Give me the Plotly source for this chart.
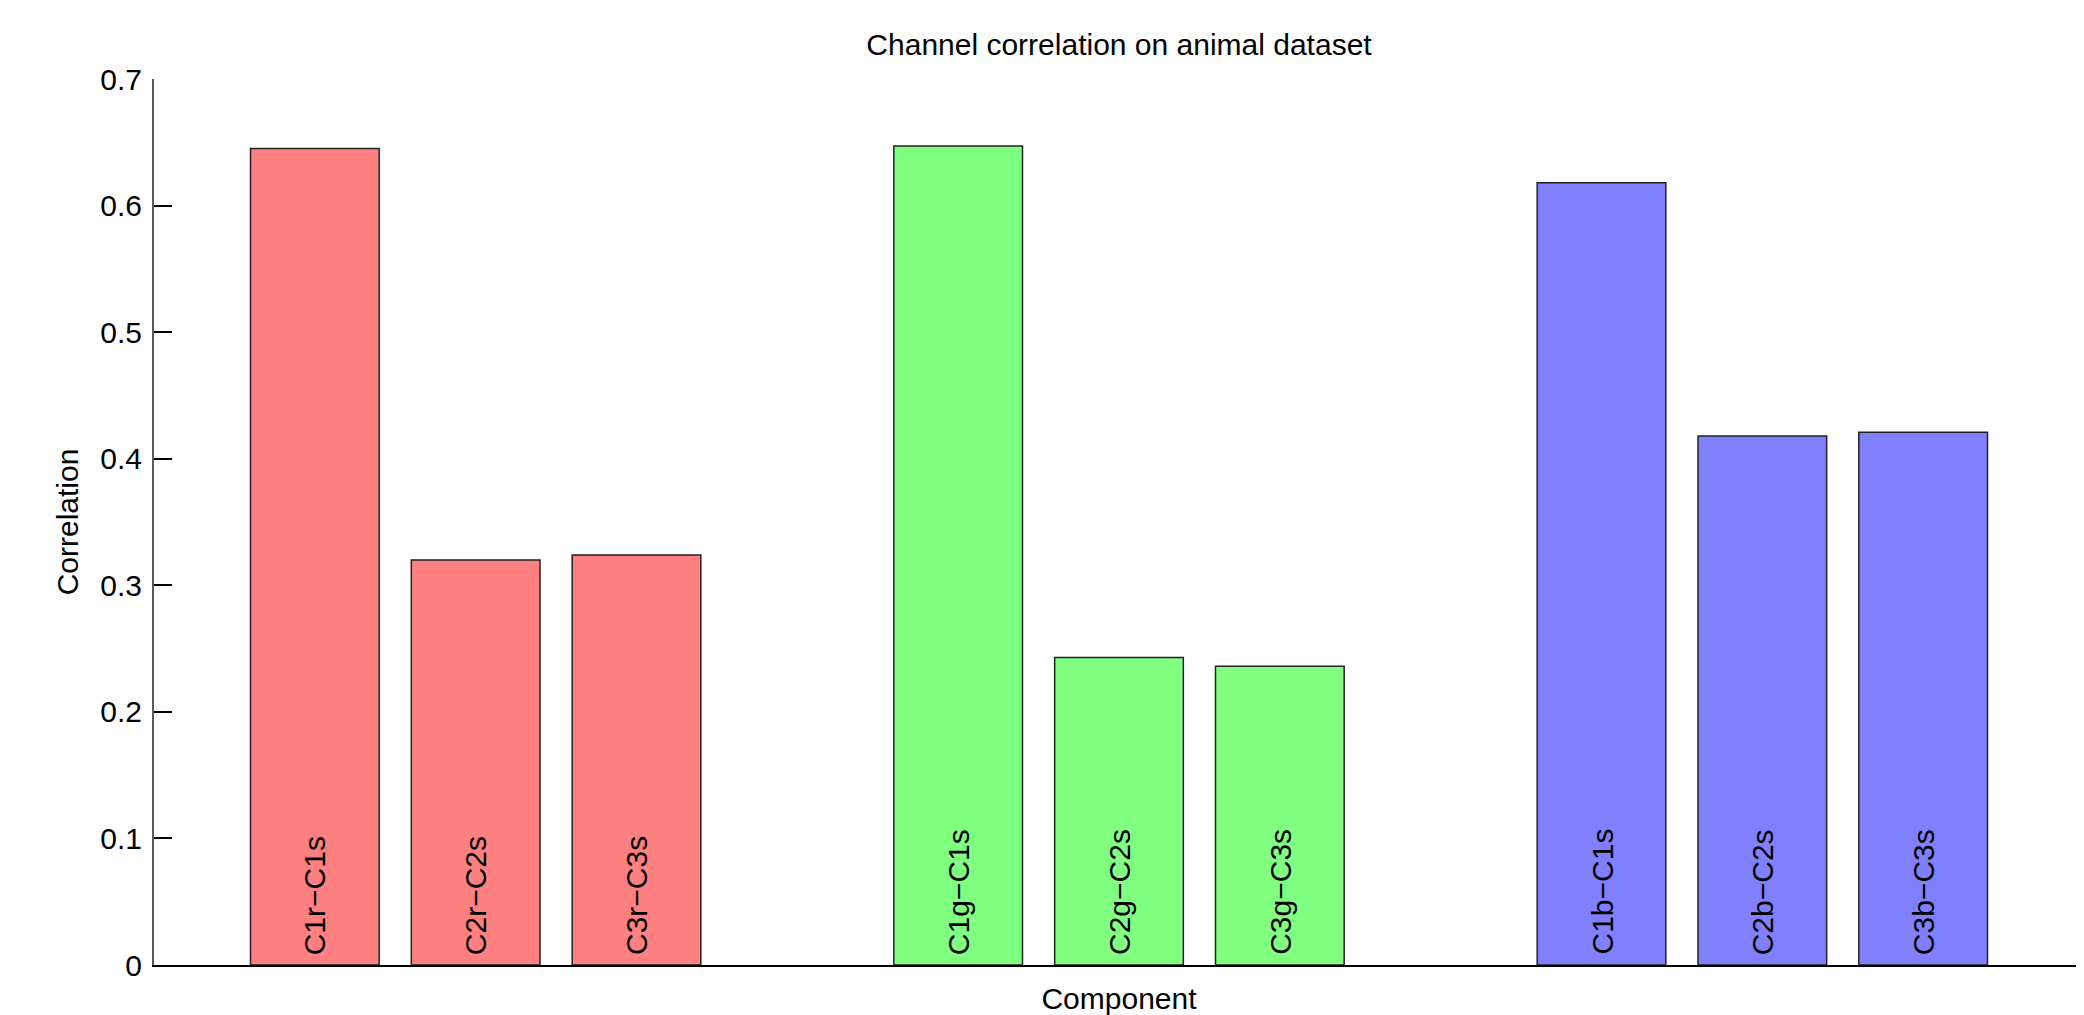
import plotly.graph_objects as go

# ---- data ----
groups = ["r", "g", "b"]
group_colors = ["#FF8080", "#80FF80", "#8080FF"]
components = ["C1", "C2", "C3"]
labels = [
    ["C1r−C1s", "C2r−C2s", "C3r−C3s"],
    ["C1g−C1s", "C2g−C2s", "C3g−C3s"],
    ["C1b−C1s", "C2b−C2s", "C3b−C3s"],
]
values = [
    [0.645, 0.320, 0.324],
    [0.647, 0.243, 0.236],
    [0.618, 0.418, 0.421],
]
y_ticks = [0, 0.1, 0.2, 0.3, 0.4, 0.5, 0.6, 0.7]
y_tick_text = ["0", "0.1", "0.2", "0.3", "0.4", "0.5", "0.6", "0.7"]

FONT = "Liberation Sans, Arial, Helvetica, sans-serif"
FS = 30
BODY = 8  # default page body margin in the browser

W, H = 2084 - BODY, 1015 - BODY

fig = go.Figure()
annotations = []
for gi, g in enumerate(groups):
    xs = [gi * 4 + ci + 1 for ci in range(len(components))]
    fig.add_trace(go.Bar(
        x=xs, y=values[gi], width=0.8,
        marker=dict(color=group_colors[gi], line=dict(color="#222222", width=1.5)),
        showlegend=False, hoverinfo="x+y",
    ))
    for x, lab in zip(xs, labels[gi]):
        annotations.append(dict(
            x=x, y=0, xref="x", yref="y", text=lab, showarrow=False,
            textangle=-90, xanchor="center", yanchor="bottom", yshift=8,
            font=dict(family=FONT, size=FS, color="black"),
        ))

fig.update_layout(
    width=W, height=H,
    margin=dict(l=154 - BODY, r=0, t=79 - BODY, b=50, pad=0),
    paper_bgcolor="white", plot_bgcolor="white",
    font=dict(family=FONT, size=FS, color="black"),
    title=dict(text="Channel correlation on animal dataset", x=0.5, xref="paper",
               y=1 - (44 - BODY) / H, yref="container", yanchor="middle", xanchor="center",
               font=dict(family=FONT, size=FS, color="black")),
    bargap=0.2,
    annotations=annotations,
)
fig.update_xaxes(
    range=[0, 12], showgrid=False, zeroline=False, showticklabels=False, ticks="",
    showline=True, linecolor="black", linewidth=2,
    title=dict(text="Component", standoff=22, font=dict(family=FONT, size=FS, color="black")),
)
fig.update_yaxes(
    range=[0, 0.7], showgrid=False, zeroline=False,
    tickvals=y_ticks, ticktext=y_tick_text,
    ticks="inside", ticklen=18, tickwidth=2, tickcolor="black",
    ticklabelstandoff=4,
    showline=True, linecolor="#5a5a5a", linewidth=2,
    tickfont=dict(family=FONT, size=FS, color="black"),
    title=dict(text="Correlation", standoff=13, font=dict(family=FONT, size=FS, color="black")),
)

fig.write_html("out.html")
